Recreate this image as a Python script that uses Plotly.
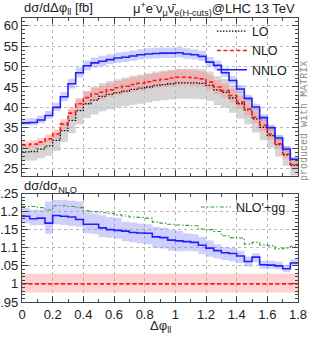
import numpy as np
import plotly.graph_objects as go

# ---------------- data ----------------
edges = np.round(np.arange(0, 1.8001, 0.05), 2)  # 36 bins of width 0.05 in dphi_ll

lo = [29.1, 29.2, 29.8, 30.6, 31.9, 34.3, 36.8, 39.2, 40.9, 41.8, 42.7, 43.2, 43.6, 44.0, 44.4, 44.7, 45.0, 45.4,
      45.6, 45.8, 46.0, 46.0, 46.0, 45.9, 45.4, 44.3, 43.7, 42.3, 40.9, 39.4, 37.2, 35.1, 33.1, 30.9, 28.4, 25.8]
nlo = [30.8, 31.0, 31.5, 32.3, 33.5, 35.9, 38.6, 40.9, 42.4, 43.3, 43.7, 44.3, 44.8, 45.2, 45.6, 45.9, 46.3, 46.6,
       46.9, 47.2, 47.4, 47.4, 47.2, 47.0, 46.2, 45.0, 44.1, 42.9, 41.3, 39.6, 37.6, 35.6, 33.5, 31.1, 28.6, 26.0]
nnlo = [36.2, 36.3, 36.9, 38.0, 40.0, 42.6, 45.8, 48.5, 50.2, 50.9, 51.3, 51.7, 52.1, 52.3, 52.6, 52.9, 53.1, 53.2,
        53.3, 53.3, 53.4, 53.1, 52.9, 52.5, 51.1, 50.3, 48.5, 46.6, 44.5, 42.2, 40.1, 37.5, 35.0, 32.5, 29.8, 27.3]

# scale-uncertainty bands in percent (up / down)
lo_up_pct = [5.0, 5.0, 5.5, 5.5, 6.0, 6.5, 7.0, 7.0, 7.5, 7.5, 7.5, 7.5, 7.5, 7.5, 7.5, 7.5, 7.5, 7.5,
             7.5, 7.5, 7.5, 7.5, 7.5, 7.5, 7.5, 7.5, 7.5, 7.5, 7.5, 7.5, 7.5, 7.5, 7.5, 7.5, 7.5, 7.5]
lo_dn_pct = [7.5, 7.5, 7.5, 8.0, 8.0, 8.0, 8.5, 8.5, 8.5, 8.5, 8.5, 8.5, 8.5, 8.5, 8.5, 8.5, 8.5, 8.5,
             8.5, 8.5, 8.5, 8.5, 8.5, 8.5, 8.5, 8.5, 8.5, 8.5, 9.0, 9.0, 9.0, 9.0, 9.0, 9.5, 9.5, 9.5]
nlo_up_pct = [3.0, 3.0, 3.0, 3.2, 3.2, 3.4, 3.5, 3.5, 3.6, 3.6, 3.6, 3.7, 3.7, 3.7, 3.8, 3.8, 3.8, 3.8,
              3.8, 3.8, 3.8, 3.8, 3.8, 3.8, 3.8, 3.8, 3.8, 3.8, 3.8, 3.8, 3.8, 3.8, 3.8, 3.8, 3.8, 3.8]
nlo_dn_pct = [2.6, 2.6, 2.8, 3.0, 3.2, 3.4, 3.6, 3.8, 4.0, 4.0, 4.0, 4.0, 4.0, 4.0, 4.0, 4.0, 4.0, 4.0,
              4.0, 4.0, 4.0, 4.0, 4.0, 4.0, 4.0, 4.0, 4.0, 4.0, 4.0, 4.0, 4.0, 4.0, 4.0, 4.0, 4.0, 4.0]
nnlo_up_pct = [3.0, 3.0, 3.0, 3.0, 2.8, 2.8, 2.6, 2.6, 2.6, 2.6, 2.6, 2.6, 2.6, 2.6, 2.6, 2.6, 2.6, 2.6,
               2.6, 2.6, 2.6, 2.6, 2.6, 2.6, 2.4, 2.4, 2.4, 2.4, 2.2, 2.2, 2.0, 2.0, 2.0, 2.0, 2.0, 2.0]
nnlo_dn_pct = [1.8, 1.8, 2.0, 2.0, 2.2, 2.4, 2.6, 2.4, 2.2, 2.2, 2.2, 2.2, 2.2, 2.2, 2.2, 2.2, 2.2, 2.2,
               2.2, 2.2, 2.2, 2.2, 2.2, 2.2, 2.2, 2.2, 2.2, 2.0, 2.0, 2.0, 2.0, 2.0, 2.0, 2.0, 2.0, 2.0]

# ratio panel (d sigma / d sigma_NLO)
nnlo_ratio = [1.187, 1.180, 1.182, 1.168, 1.189, 1.187, 1.185, 1.178, 1.165, 1.165, 1.155, 1.150, 1.148, 1.146,
              1.142, 1.141, 1.140, 1.130, 1.128, 1.121, 1.119, 1.117, 1.115, 1.107, 1.099, 1.092, 1.086, 1.084,
              1.077, 1.062, 1.074, 1.053, 1.052, 1.050, 1.042, 1.058]
nnlo_ratio_up = [1.209, 1.205, 1.205, 1.228, 1.232, 1.232, 1.230, 1.228, 1.198, 1.195, 1.190, 1.185, 1.182,
                 1.172, 1.170, 1.167, 1.165, 1.158, 1.155, 1.150, 1.147, 1.140, 1.138, 1.130, 1.120, 1.110,
                 1.102, 1.100, 1.092, 1.075, 1.085, 1.064, 1.064, 1.061, 1.052, 1.068]
nnlo_ratio_dn = [1.168, 1.162, 1.162, 1.139, 1.165, 1.163, 1.160, 1.158, 1.140, 1.138, 1.130, 1.128, 1.125,
                 1.118, 1.115, 1.112, 1.110, 1.100, 1.098, 1.092, 1.090, 1.092, 1.090, 1.082, 1.075, 1.070,
                 1.066, 1.063, 1.058, 1.048, 1.060, 1.042, 1.042, 1.040, 1.032, 1.050]
nlo_ratio = [1.0] * 36
nlo_ratio_up = [1.028] * 36
nlo_ratio_dn = [0.976] * 36
nlogg_ratio = [1.214, 1.214, 1.211, 1.205, 1.216, 1.216, 1.214, 1.211, 1.202, 1.200, 1.197, 1.195, 1.191, 1.188,
               1.185, 1.184, 1.182, 1.171, 1.168, 1.165, 1.163, 1.162, 1.161, 1.152, 1.150, 1.145, 1.133, 1.128,
               1.127, 1.110, 1.115, 1.108, 1.106, 1.097, 1.099, 1.104]

# ---------------- helpers ----------------
def step(vals):
    return list(edges), list(vals) + [vals[-1]]


def scaled(vals, pct, sign):
    return [v * (1 + sign * p / 100.0) for v, p in zip(vals, pct)]


C_BLUE = "#2020ff"
C_RED = "#ff1a1a"
C_GREEN = "#3c9c3c"
FONT = "Liberation Sans, Arial, sans-serif"
DASH_NLO = "4px,2.5px"
DASH_LO = "1.5px,1.5px"
DASH_GG = "4px,2px,1.5px,2px"

fig = go.Figure()


def band(lo_vals, hi_vals, color, xa, ya):
    x, y1 = step(lo_vals)
    _, y2 = step(hi_vals)
    fig.add_trace(go.Scatter(x=x, y=y1, mode="lines", line=dict(width=0, shape="hv", color=color),
                             showlegend=False, hoverinfo="skip", xaxis=xa, yaxis=ya))
    fig.add_trace(go.Scatter(x=x, y=y2, mode="lines", line=dict(width=0, shape="hv", color=color),
                             fill="tonexty", fillcolor=color, showlegend=False, hoverinfo="skip",
                             xaxis=xa, yaxis=ya))


def line(vals, name, color, dash, width, xa, ya, legend=None, show=True):
    x, y = step(vals)
    fig.add_trace(go.Scatter(x=x, y=y, mode="lines", name=name,
                             line=dict(color=color, dash=dash, width=width, shape="hv"),
                             showlegend=show, legend=legend, xaxis=xa, yaxis=ya))


# top panel
band(scaled(lo, lo_dn_pct, -1), scaled(lo, lo_up_pct, 1), "rgba(190,190,190,0.65)", "x", "y")
band(scaled(nlo, nlo_dn_pct, -1), scaled(nlo, nlo_up_pct, 1), "rgba(255,140,140,0.45)", "x", "y")
band(scaled(nnlo, nnlo_dn_pct, -1), scaled(nnlo, nnlo_up_pct, 1), "rgba(120,120,255,0.35)", "x", "y")
line(lo, "LO", "#111111", DASH_LO, 1.3, "x", "y", legend="legend")
line(nlo, "NLO", C_RED, DASH_NLO, 1.6, "x", "y", legend="legend")
line(nnlo, "NNLO", C_BLUE, "solid", 1.6, "x", "y", legend="legend")

# ratio panel
band(nlo_ratio_dn, nlo_ratio_up, "rgba(255,140,140,0.40)", "x2", "y2")
band(nnlo_ratio_dn, nnlo_ratio_up, "rgba(120,120,255,0.35)", "x2", "y2")
line(nlogg_ratio, "NLO'+gg", C_GREEN, DASH_GG, 1.1, "x2", "y2", legend="legend2")
line(nnlo_ratio, "NNLO", C_BLUE, "solid", 1.6, "x2", "y2", show=False)
line(nlo_ratio, "NLO", C_RED, DASH_NLO, 1.6, "x2", "y2", show=False)

axis_common = dict(showline=True, linecolor="#444444", linewidth=1.2, mirror="ticks", ticks="inside",
                   tickcolor="#444444", ticklen=6, tickwidth=1, showgrid=True, gridcolor="#b8b8b8",
                   griddash="dot", gridwidth=1, zeroline=False, automargin=False,
                   tickfont=dict(family=FONT, size=13, color="#222222"))

fig.update_layout(
    width=311, height=340,
    margin=dict(l=22, r=13, t=18, b=38),
    plot_bgcolor="white", paper_bgcolor="white",
    font=dict(family=FONT, size=13, color="#222222"),
    xaxis=dict(domain=[0, 1], anchor="y", range=[0, 1.8], dtick=0.2, tick0=0, showticklabels=False,
               minor=dict(dtick=0.1, ticks="inside", ticklen=3, tickcolor="#444444", showgrid=False),
               **axis_common),
    yaxis=dict(domain=[0.4437, 1], anchor="x", range=[23.2, 61.9], dtick=5, tick0=0,
               minor=dict(dtick=1, ticks="inside", ticklen=3, tickcolor="#444444", showgrid=False),
               **axis_common),
    xaxis2=dict(domain=[0, 1], anchor="y2", range=[0, 1.8], dtick=0.2, tick0=0, matches="x",
                tickvals=[0, 0.2, 0.4, 0.6, 0.8, 1.0, 1.2, 1.4, 1.6, 1.8],
                ticktext=["0", "0.2", "0.4", "0.6", "0.8", "1", "1.2", "1.4", "1.6", "1.8"],
                minor=dict(dtick=0.1, ticks="inside", ticklen=3, tickcolor="#444444", showgrid=False),
                **axis_common),
    yaxis2=dict(domain=[0, 0.382], anchor="x2", range=[0.95, 1.25],
                tickvals=[0.95, 1.0, 1.05, 1.1, 1.15, 1.2, 1.25],
                ticktext=["0.95", "1", "1.05", "1.1", "1.15", "1.2", "1.25"],
                minor=dict(dtick=0.01, ticks="inside", ticklen=3, tickcolor="#444444", showgrid=False),
                **axis_common),
    legend=dict(x=0.688, y=1.005, xanchor="left", yanchor="top", bgcolor="rgba(255,255,255,0)",
                font=dict(family=FONT, size=12.5, color="#222222"), itemwidth=30, tracegroupgap=0,
                traceorder="normal"),
    legend2=dict(x=0.63, y=0.386, xanchor="left", yanchor="top", bgcolor="rgba(255,255,255,0)",
                 font=dict(family=FONT, size=12.5, color="#222222"), itemwidth=30),
    showlegend=True,
)

ann_font = dict(family=FONT, size=13, color="#222222")
fig.add_annotation(text="dσ/dΔφ<sub>ll</sub> [fb]", xref="paper", yref="paper", x=0, y=1.032,
                   xanchor="left", yanchor="middle", showarrow=False, font=ann_font)
fig.add_annotation(text="μ<sup>+</sup>e<sup>-</sup>ν<sub>μ</sub>ν̄<sub>e(H-cuts)</sub>@LHC 13 TeV",
                   xref="paper", yref="paper", x=0.995, y=1.032, xanchor="right", yanchor="middle",
                   showarrow=False, font=ann_font)
fig.add_annotation(text="dσ/dσ<sub>NLO</sub>", xref="paper", yref="paper", x=0, y=0.405,
                   xanchor="left", yanchor="middle", showarrow=False, font=ann_font)
fig.add_annotation(text="Δφ<sub>ll</sub>", xref="paper", yref="paper", x=0.5, y=-0.088,
                   xanchor="center", yanchor="middle", showarrow=False, font=ann_font)
fig.add_annotation(text="produced with MATRIX", xref="paper", yref="paper", x=1.021, y=0.637,
                   xanchor="center", yanchor="middle", textangle=-90, showarrow=False,
                   font=dict(family="Liberation Mono, DejaVu Sans Mono, monospace", size=10, color="#8a8a8a"))

fig.write_html("out.html", config={"displayModeBar": False},
               post_script="document.body.style.margin='0';document.body.style.padding='0';")
